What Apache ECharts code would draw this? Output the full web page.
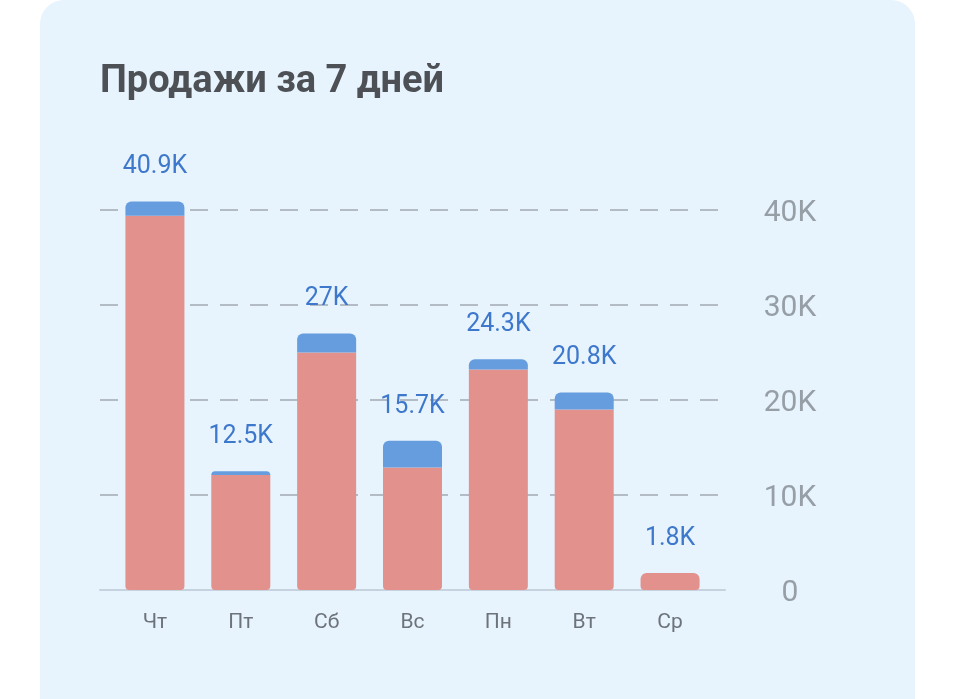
<!DOCTYPE html>
<html><head><meta charset="utf-8">
<script src="https://cdn.jsdelivr.net/npm/echarts@6/dist/echarts.min.js"></script>
<style>html,body{margin:0;padding:0;background:#ffffff;}#c{width:955px;height:699px;}</style>
</head><body><div id="c"></div>
<script>
const categories = ['Чт','Пт','Сб','Вс','Пн','Вт','Ср'];
const baseValues = [39400, 12100, 25000, 12900, 23200, 19000, 1800];
const topValues = [1500, 400, 2000, 2800, 1100, 1800, 0];
const totalLabels = ['40.9K','12.5K','27K','15.7K','24.3K','20.8K','1.8K'];
const yTicks = [0, 10000, 20000, 30000, 40000];

const chart = echarts.init(document.getElementById('c'), null, {renderer:'canvas'});
const fmtK = v => v === 0 ? '0' : (v/1000) + 'K';

const baseData = baseValues.map((v,i)=>({
  value: v,
  itemStyle: { borderRadius: topValues[i] > 0 ? [0,0,4,4] : [6,6,4,4] }
}));

chart.setOption({
  animation:false,
  graphic:[{
    type:'rect', z:-10, silent:true,
    shape:{x:40,y:0,width:875,height:760,r:24},
    style:{fill:'#e7f3fd'}
  },{
    type:'text', left:100, top:63,
    style:{text:'Продажи за 7 дней', font:'bold 38px Roboto', fill:'#4d5156'}
  }],
  grid:[
    {left:112, right:242, top:210, bottom:109},
    {left:100, right:230, top:210, bottom:109}
  ],
  xAxis:[
    {type:'category', gridIndex:0, data:categories,
      axisLine:{show:false}, axisTick:{show:false},
      axisLabel:{color:'#6d737a', fontSize:21, fontFamily:'Roboto', margin:22}},
    {type:'category', gridIndex:1, data:[''],
      axisLine:{show:true, lineStyle:{color:'#c6d2dd', width:2}},
      axisTick:{show:false}, axisLabel:{show:false}}
  ],
  yAxis:[
    {type:'value', gridIndex:0, min:0, max:40000, interval:10000,
      axisLabel:{show:false}, splitLine:{show:false}, axisLine:{show:false}},
    {type:'value', gridIndex:1, position:'right', min:0, max:40000, interval:10000,
      axisLine:{show:false}, axisTick:{show:false},
      axisLabel:{margin:65, align:'center', verticalAlign:'middle',
        formatter: v => yTicks.indexOf(v) >= 0 ? '{t|' + fmtK(v) + '}' : '',
        rich:{t:{color:'#969ea6', fontSize:30, fontFamily:'Roboto', padding:[6,0,0,0]}}},
      splitLine:{show:true, showMinLine:false, lineStyle:{color:'#a3abb3', width:1.5, type:[18,12]}}}
  ],
  series:[
    {type:'bar', stack:'s', xAxisIndex:0, yAxisIndex:0, barWidth:59, clip:false,
      data: baseData, itemStyle:{color:'#e2918c'}},
    {type:'bar', stack:'s', xAxisIndex:0, yAxisIndex:0, barWidth:59, clip:false,
      data: topValues, itemStyle:{color:'#669ddf', borderRadius:[6,6,0,0]},
      label:{show:true, position:'top', distance:22, color:'#3d78cc', fontSize:25, fontFamily:'Roboto',
        formatter: p => totalLabels[p.dataIndex]}}
  ]
});
</script></body></html>
